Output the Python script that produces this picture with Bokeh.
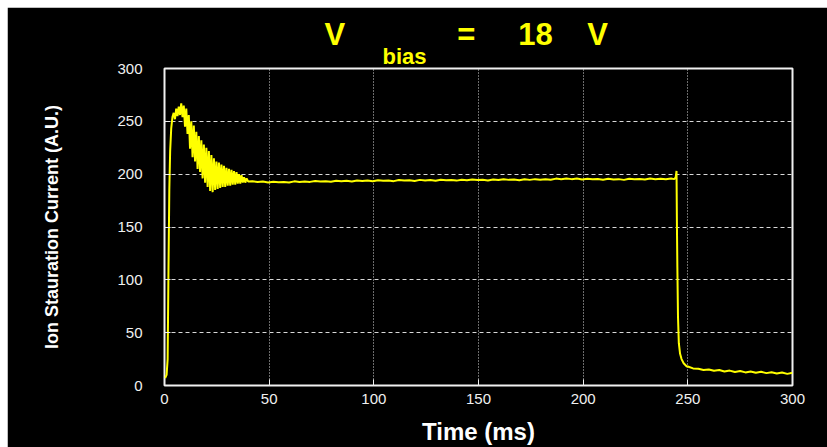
from bokeh.plotting import figure
from bokeh.models import Range1d, FixedTicker, ColumnDataSource, Spacer, Title
from bokeh.layouts import column, row
from bokeh.embed import file_html
from bokeh.resources import INLINE

# ---- data ----
time_ms = [
    0.3, 1.0, 1.5, 1.9, 2.3, 2.7, 3.2, 3.8, 4.4, 5.0, 5.6, 6.2, 6.8, 7.4, 8.0, 8.6, 9.2, 9.8,
    10.4, 11.0, 11.6, 12.2, 12.8, 13.4, 14.0, 14.6, 15.2, 15.8, 16.4, 17.0, 17.6, 18.2, 18.8,
    19.4, 20.0, 20.6, 21.2, 21.8, 22.4, 23.0, 23.6, 24.2, 24.8, 25.4, 26.0, 26.6, 27.2, 27.8,
    28.4, 29.0, 29.6, 30.2, 30.8, 31.4, 32.0, 32.6, 33.2, 33.8, 34.4, 35.0, 35.6, 36.2, 36.8,
    37.4, 38.0, 38.6, 39.2, 40.0,
    42, 44.5, 47, 49.5, 52, 54.5, 57, 59.5, 62, 64.5, 67, 69.5, 72, 74.5, 77, 79.5, 82, 84.5,
    87, 89.5, 92, 94.5, 97, 99.5, 102, 104.5, 107, 109.5, 112, 114.5, 117, 119.5, 122, 124.5,
    127, 129.5, 132, 134.5, 137, 139.5, 142, 144.5, 147, 149.5, 152, 154.5, 157, 159.5, 162,
    164.5, 167, 169.5, 172, 174.5, 177, 179.5, 182, 184.5, 187, 189.5, 192, 194.5, 197, 199.5,
    202, 204.5, 207, 209.5, 212, 214.5, 217, 219.5, 222, 224.5, 227, 229.5, 232, 234.5, 237,
    239.5, 242, 243.5, 244.2, 244.6, 244.8, 245.0, 245.3, 245.7, 246.3, 247.0, 248.0, 249.5,
    250, 252.5, 255, 257.5, 260, 262.5, 265, 267.5, 270, 272.5, 275, 277.5, 280, 282.5, 285,
    287.5, 290, 292.5, 295, 297.5, 300,
]
ion_current = [
    7, 10, 25, 110, 185, 222, 243, 254, 258, 252, 262, 255, 264, 256, 267, 254, 265, 245,
    262, 238, 256, 224, 250, 216, 246, 212, 240, 205, 236, 202, 232, 196, 228,
    192, 225, 188, 222, 184, 218, 183, 215, 185, 212, 186, 211, 187, 209, 188,
    208, 188, 206, 189, 205, 189, 204, 190, 203, 190, 202, 191, 200, 191, 199,
    192, 197, 192, 196, 193,
    193.3, 192.6, 193.1, 192.2, 192.9, 192.4, 192.6, 192.1, 193.2, 192.6, 193.0, 192.7, 193.5,
    193.0, 193.4, 192.9, 193.8, 193.3, 193.7, 193.1, 194.0, 193.5, 193.9, 193.3, 194.3, 193.8,
    194.0, 193.4, 194.4, 193.9, 194.2, 193.6, 194.6, 194.1, 194.4, 193.7, 194.7, 194.3, 194.5,
    193.9, 194.8, 194.2, 194.9, 194.5, 194.7, 194.1, 194.9, 194.4, 195.1, 194.6, 194.9, 194.3,
    195.1, 194.6, 195.3, 194.8, 195.2, 194.7, 195.8, 195.2, 196.0, 195.3, 195.8, 195.0, 195.7,
    195.1, 195.5, 194.8, 195.6, 195.0, 195.3, 194.6, 195.7, 195.1, 195.5, 194.9, 195.9, 195.3,
    195.7, 195.1, 195.9, 195.3, 197, 203, 150, 112, 65, 40, 30, 25, 21, 18,
    18, 16.2, 15.8, 14.6, 15.2, 13.9, 14.6, 13.2, 14.1, 12.8, 13.7, 12.4, 13.3, 12.0, 13.0,
    11.7, 12.6, 11.4, 12.3, 11.0, 12.0,
]
x_ticks = [0, 50, 100, 150, 200, 250, 300]
y_ticks = [0, 50, 100, 150, 200, 250, 300]

NB = "\u00a0"
title_main = "V" + NB * 13 + "=" + NB * 5 + "18" + NB * 4 + "V"
title_sub = "bias"

FONT = "Liberation Sans"
YELLOW = "#ffff00"
TICKC = "#f0f0f0"

source = ColumnDataSource(data=dict(t=time_ms, i=ion_current))

p = figure(
    width=820, height=440,
    x_range=Range1d(0, 300), y_range=Range1d(0, 300),
    output_backend="svg", toolbar_location=None,
    min_border_left=157, min_border_right=35, min_border_top=61, min_border_bottom=62,
    background_fill_color="black", border_fill_color="black",
    outline_line_color=TICKC, outline_line_width=2,
)

p.line("t", "i", source=source, line_color=YELLOW, line_width=2)

for ax in (p.xaxis, p.yaxis):
    ax.axis_line_color = None
    ax.major_tick_in = 6
    ax.major_tick_out = 0
    ax.major_tick_line_color = TICKC
    ax.minor_tick_line_color = None
    ax.major_label_text_color = TICKC
    ax.major_label_text_font = FONT
    ax.major_label_text_font_size = "15px"
    ax.axis_label_text_color = "white"
    ax.axis_label_text_font = FONT
    ax.axis_label_text_font_style = "bold"

p.xaxis.ticker = FixedTicker(ticks=x_ticks)
p.yaxis.ticker = FixedTicker(ticks=y_ticks)
p.xaxis.major_label_standoff = 8
p.yaxis.major_label_standoff = 22
p.xaxis.axis_label = "Time (ms)"
p.xaxis.axis_label_text_font_size = "24px"
p.xaxis.axis_label_standoff = 11
p.yaxis.axis_label = "Ion Stauration Current (A.U.)"
p.yaxis.axis_label_text_font_size = "18px"
p.yaxis.axis_label_standoff = 52

p.xgrid.grid_line_color = "#d8d8d8"
p.xgrid.grid_line_dash = "1 2"
p.ygrid.grid_line_color = "#d8d8d8"
p.ygrid.grid_line_dash = "4 3"

# subscript row (closest to the frame), then the main title row
p.add_layout(Title(text=title_sub, align="left", offset=218, standoff=-1.5,
                   text_color=YELLOW, text_font=FONT, text_font_style="bold",
                   text_font_size="22px"), "above")
p.add_layout(Title(text=title_main, align="left", offset=160, standoff=-18.5,
                   text_color=YELLOW, text_font=FONT, text_font_style="bold",
                   text_font_size="31px"), "above")

layout = column(
    Spacer(width=827, height=7),
    row(Spacer(width=7, height=440), p, spacing=0),
    spacing=0,
)

open("out.html", "w").write(file_html(layout, INLINE))
